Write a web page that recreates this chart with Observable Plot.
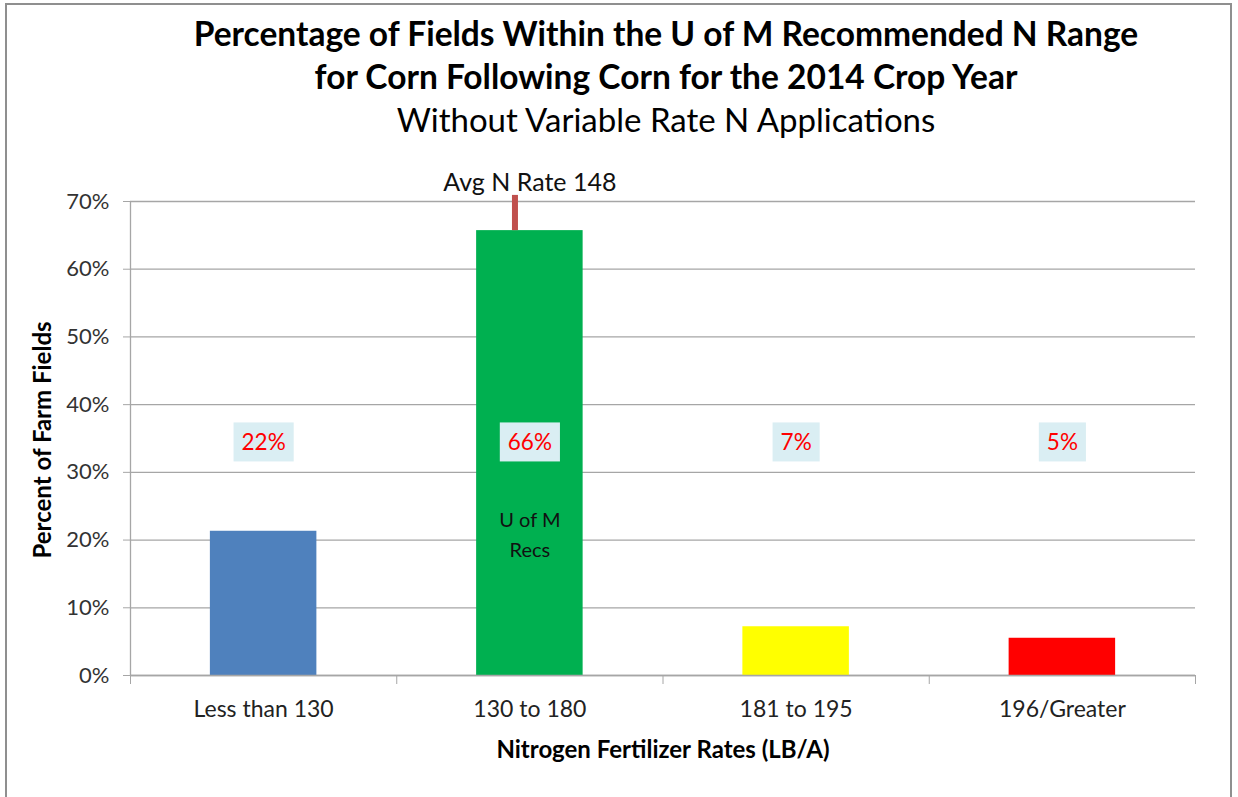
<!DOCTYPE html>
<html>
<head>
<meta charset="utf-8">
<script src="https://cdn.jsdelivr.net/npm/d3@7"></script>
<script src="https://cdn.jsdelivr.net/npm/@observablehq/plot@0.6"></script>
<style>
  html, body { margin: 0; padding: 0; background: #fff; }
  #wrap { position: relative; width: 1238px; height: 797px; overflow: hidden; font-family: Lato, "Open Sans", sans-serif; }
  #frame { position: absolute; left: 5px; top: 3px; width: 1227px; height: 810px; border: 2px solid #8f8f8f; box-sizing: border-box; }
  .t { position: absolute; left: 166px; width: 1000px; text-align: center; color: #000; white-space: nowrap; line-height: 1; }
  #t1 { top: 17px; font-size: 33.5px; font-weight: 700; }
  #t2 { top: 60px; font-size: 33.5px; font-weight: 700; }
  #t3 { top: 103px; font-size: 33px; font-weight: 400; }
  #ytitle { position: absolute; left: 41px; top: 440px; transform: translate(-50%, -50%) rotate(-90deg); font-size: 24px; font-weight: 700; white-space: nowrap; }
  #xtitle { position: absolute; left: 663px; top: 748px; transform: translate(-50%, -50%); font-size: 24px; font-weight: 700; white-space: nowrap; }
  #chart { position: absolute; left: 0; top: 0; }
</style>
</head>
<body>
<div id="wrap">
  <div id="frame"></div>
  <div id="chart"></div>
  <div class="t" id="t1">Percentage of Fields Within the U of M Recommended N Range</div>
  <div class="t" id="t2">for Corn Following Corn for the 2014 Crop Year</div>
  <div class="t" id="t3">Without Variable Rate N Applications</div>
  <div id="ytitle">Percent of Farm Fields</div>
  <div id="xtitle">Nitrogen Fertilizer Rates (LB/A)</div>
</div>
<script>
// ---- data ----
const categories = ["Less than 130", "130 to 180", "181 to 195", "196/Greater"];
const shares = [0.213, 0.657, 0.072, 0.055];
const labels = ["22%", "66%", "7%", "5%"];
const barColors = ["#4F81BD", "#00B050", "#FFFF00", "#FF0000"];
const yTicks = [0, 0.1, 0.2, 0.3, 0.4, 0.5, 0.6, 0.7];
const labelLevel = 0.343;
const recsText = "U of M\nRecs";
const recsLevel = 0.212;
const avgRate = 148;
const recRange = [130, 180];
const avgMarkerTop = 0.709;
const avgText = "Avg N Rate 148";
const avgTextLevel = 0.728;

// ---- derived table ----
const gap = 0.3; // Excel-style gap (150% gap width => bar is 40% of category)
const rows = categories.map((c, i) => ({
  cat: c, i, v: shares[i], label: labels[i], color: barColors[i],
  x1: i + gap, x2: i + 1 - gap, xc: i + 0.5
}));
const recIndex = 1;
const avgX = recIndex + gap + (1 - 2 * gap) * (avgRate - recRange[0]) / (recRange[1] - recRange[0]);

const gridColor = "#A6A6A6";

const chart = Plot.plot({
  width: 1238,
  height: 797,
  marginLeft: 130,
  marginRight: 43,
  marginTop: 201,
  marginBottom: 122,
  style: { fontFamily: "Lato, 'Open Sans', sans-serif", fontSize: "20px", color: "#333", background: "transparent", overflow: "visible" },
  x: { domain: [0, 4], axis: null },
  y: { domain: [0, 0.7], axis: null },
  marks: [
    Plot.gridY(yTicks, { stroke: gridColor, strokeOpacity: 1, strokeWidth: 1.3 }),
    Plot.axisY({ ticks: yTicks, tickFormat: d3.format(".0%"), tickSize: 7, tickPadding: 14, label: null, stroke: gridColor, strokeOpacity: 1, fontSize: 22, fill: "#333" }),
    Plot.ruleX([0], { stroke: gridColor, strokeWidth: 1.3 }),
    Plot.rectY(rows, { x1: "x1", x2: "x2", y1: 0, y2: "v", fill: "color" }),
    Plot.ruleY([0], { stroke: gridColor, strokeWidth: 1.3 }),
    Plot.axisX({ ticks: [0, 1, 2, 3, 4], tickFormat: () => "", tickSize: 9, stroke: gridColor, strokeOpacity: 1, label: null }),
    Plot.axisX({ ticks: rows.map(d => d.xc), tickFormat: (t) => categories[Math.floor(t)], tickSize: 0, tickPadding: 25, label: null, fontSize: 23, fill: "#222" }),
    Plot.ruleX([avgX], { y1: shares[recIndex], y2: avgMarkerTop, stroke: "#C0504D", strokeWidth: 6 }),
    Plot.text([avgText], { x: rows[recIndex].xc, y: avgTextLevel, text: d => d, fontSize: 25, fill: "#111" }),
    Plot.text(rows, { x: "xc", y: labelLevel, text: "label", fill: "#FF0000", fontSize: 22.5, ariaDescription: "pct-labels" }),
    Plot.text([recsText], { x: rows[recIndex].xc, y: recsLevel, text: d => d, fill: "#111", fontSize: 20, lineHeight: 1.5 })
  ]
});
document.getElementById("chart").append(chart);

// light-blue boxes behind the percentage labels
let pctTexts = [];
const g = chart.querySelector('g[aria-description="pct-labels"]');
if (g) pctTexts = Array.from(g.querySelectorAll("text"));
if (!pctTexts.length) pctTexts = Array.from(chart.querySelectorAll("text")).filter(t => labels.includes(t.textContent) && t.closest('g[aria-label="text"]'));
pctTexts.forEach(t => {
  const b = t.getBBox();
  const w = b.width + 16, h = 39;
  const r = document.createElementNS("http://www.w3.org/2000/svg", "rect");
  r.setAttribute("x", b.x + b.width / 2 - w / 2);
  r.setAttribute("y", b.y + b.height / 2 - h / 2);
  r.setAttribute("width", w);
  r.setAttribute("height", h);
  r.setAttribute("fill", "#DAEEF3");
  const tr = t.getAttribute("transform");
  if (tr) r.setAttribute("transform", tr);
  t.parentNode.insertBefore(r, t);
});
</script>
</body>
</html>
